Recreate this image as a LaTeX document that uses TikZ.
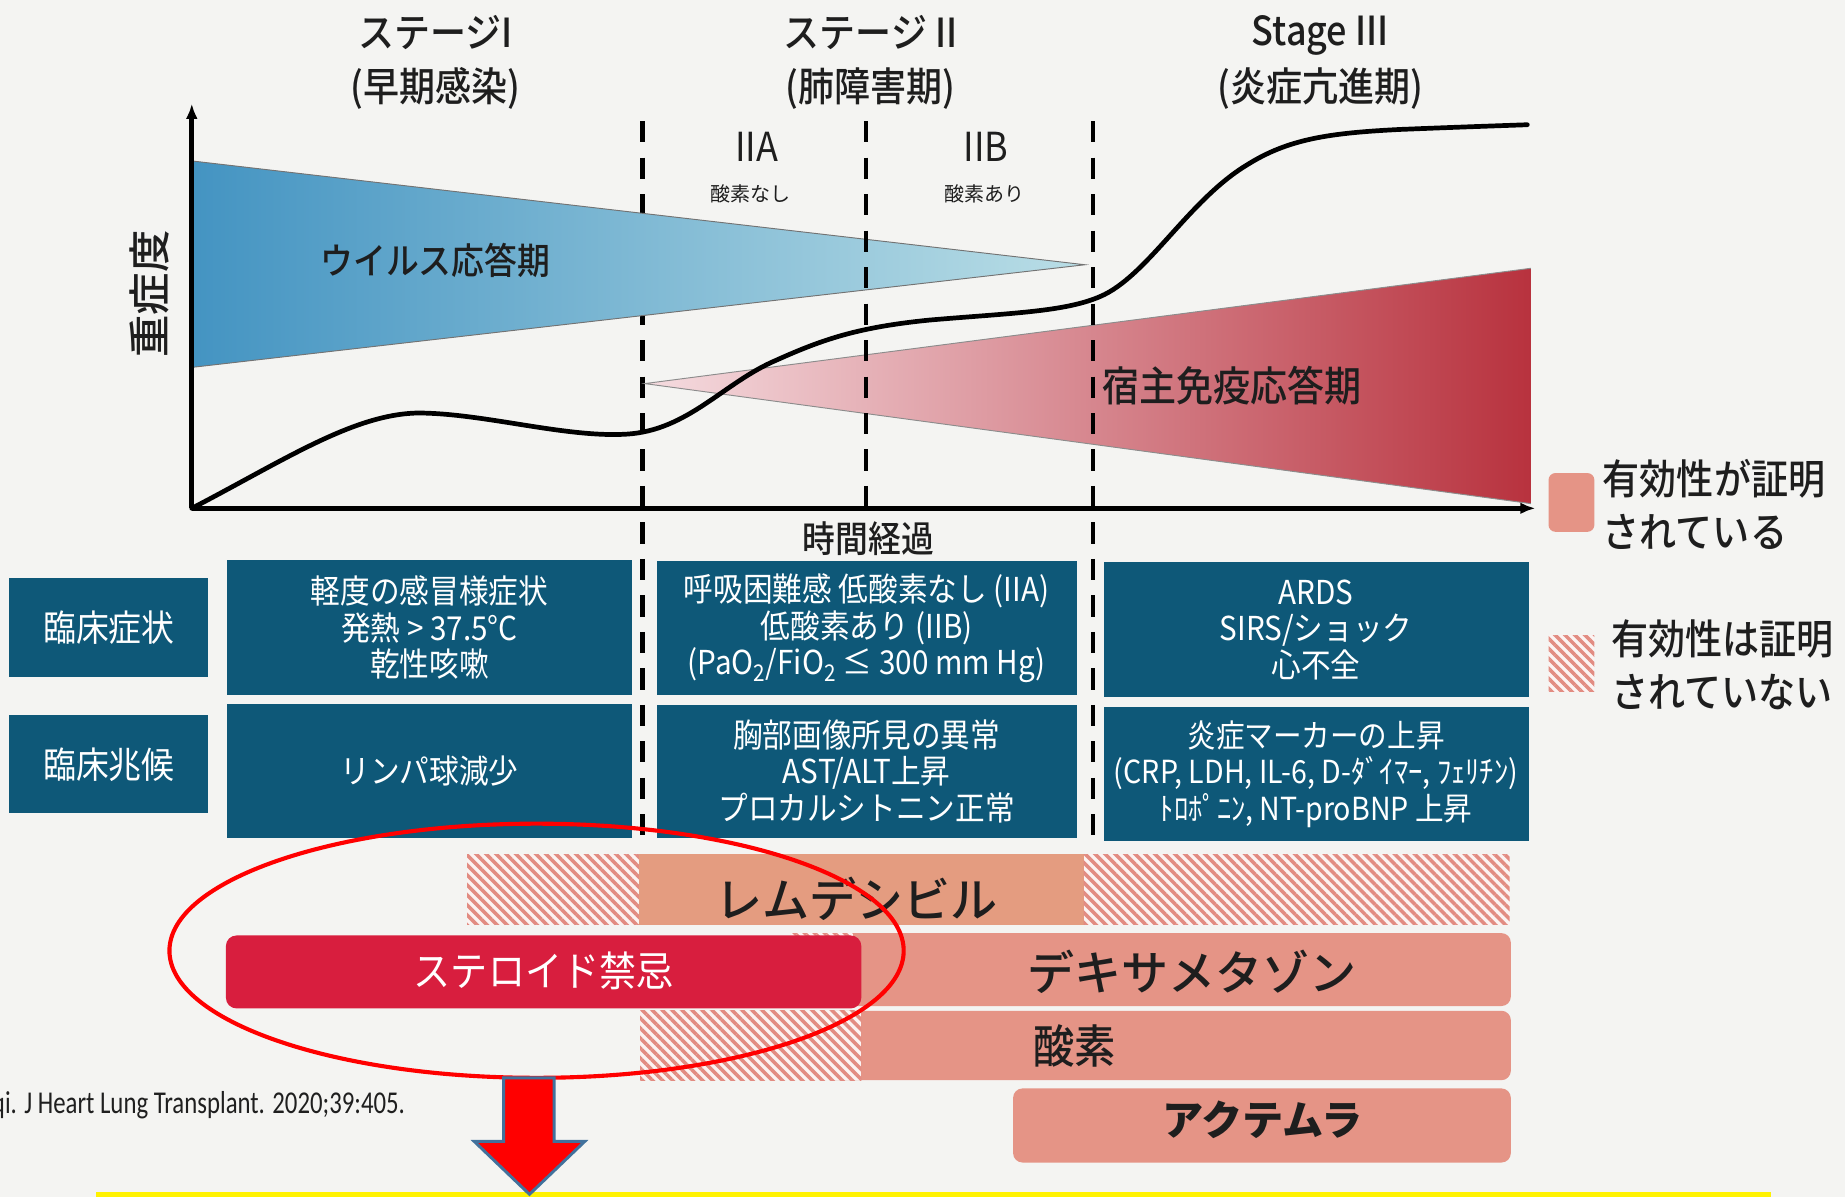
\documentclass[tikz,border=0pt]{standalone}
\usepackage{fontspec}
\setmainfont{Noto Sans CJK JP}
\newfontfamily\cond[FakeStretch=0.9]{Noto Sans CJK JP}
\IfFontExistsTF{Noto Sans CJK JP Medium}{%
  \newfontfamily\med[FakeStretch=0.9]{Noto Sans CJK JP Medium}%
  \newfontfamily\medw{Noto Sans CJK JP Medium}}{%
  \newfontfamily\med[FakeStretch=0.9]{Noto Sans CJK JP}%
  \newfontfamily\medw{Noto Sans CJK JP}}
\newfontfamily\citefont[FakeStretch=0.78]{Carlito}
\usetikzlibrary{arrows.meta,patterns.meta,shapes.geometric}
\definecolor{bgc}{RGB}{244,244,242}
\definecolor{boxteal}{RGB}{14,88,120}
\definecolor{salmonA}{RGB}{228,156,128}
\definecolor{salmonB}{RGB}{229,148,134}
\definecolor{hatchc}{RGB}{226,140,130}
\definecolor{steroidc}{RGB}{216,30,62}
\definecolor{blueL}{RGB}{68,148,194}
\definecolor{blueM}{RGB}{112,180,208}
\definecolor{blueR}{RGB}{186,222,230}
\definecolor{redL}{RGB}{245,220,224}
\definecolor{redM}{RGB}{224,142,156}
\definecolor{redR}{RGB}{184,50,62}
\definecolor{arrowedge}{RGB}{65,113,156}
\definecolor{txt}{RGB}{30,30,30}
\begin{document}
\begin{tikzpicture}[x=1pt,y=-1pt,
  stagetxt/.style={font=\med\fontsize{34}{40}\selectfont, text=txt, inner sep=0pt},
  smalltxt/.style={font=\fontsize{17}{20}\selectfont, text=txt, inner sep=0pt},
  bigtxt/.style={font=\med\fontsize{32}{36}\selectfont, text=txt, inner sep=0pt},
  tbox/.style={fill=boxteal, text=white, inner sep=0pt, align=center, font=\cond\fontsize{28}{31}\selectfont},
  lbox/.style={fill=boxteal, text=white, inner sep=0pt, align=center, font=\cond\fontsize{31}{36}\selectfont},
  dashline/.style={line width=3.5pt, dash pattern=on 18pt off 13pt},
  hatch/.style={fill=white!90!hatchc, postaction={pattern={Lines[angle=-45,distance=6pt,line width=3pt]}, pattern color=hatchc}},
  bartxt/.style={font=\medw\fontsize{40}{44}\selectfont, text=txt, inner sep=0pt},
  legtxt/.style={font=\med\fontsize{35}{45}\selectfont, text=txt, inner sep=0pt, align=left}
]
\useasboundingbox (0,0) rectangle (1568,1017);
\fill[bgc] (0,0) rectangle (1568,1017);

% coordinates
\coordinate (O) at (163,432);
\coordinate (Ytop) at (163,88);
\coordinate (Xend) at (1305,432);
\coordinate (d1t) at (546,103); \coordinate (d1b) at (546,712);
\coordinate (d2t) at (736,103); \coordinate (d2b) at (736,430);
\coordinate (d3t) at (929,103); \coordinate (d3b) at (929,714);
\coordinate (vA) at (165,137); \coordinate (vB) at (922,225); \coordinate (vC) at (165,312);
\coordinate (hA) at (548,326); \coordinate (hB) at (1301,228); \coordinate (hC) at (1301,428);

% dashed line hidden by the blue triangle
\draw[dashline] (d1t) -- (d1b);

% triangles
\shade[left color=blueL, middle color=blueM, right color=blueR] (vA) -- (vB) -- (vC) -- cycle;
\draw[line width=0.8pt, black!55] (vA) -- (vB) -- (vC);
\shade[left color=redL, middle color=redM, right color=redR] (hA) -- (hB) -- (hC) -- cycle;
\draw[line width=0.8pt, black!45] (hB) -- (hA) -- (hC);

\draw[dashline] (d2t) -- (d2b);
\draw[dashline] (d3t) -- (d3b);

% severity curve
\draw[line width=4pt, line cap=round] (O) .. controls (240,392) and (300,352) .. (355,351)
  .. controls (410,351) and (480,372) .. (532,369)
  .. controls (585,366) and (615,325) .. (660,306)
  .. controls (700,288) and (730,278) .. (790,272)
  .. controls (860,266) and (905,265) .. (935,252)
  .. controls (975,235) and (1010,170) .. (1060,140)
  .. controls (1095,118) and (1130,113) .. (1190,110)
  .. controls (1240,108) and (1270,107) .. (1298,106);

% axes
\draw[line width=4pt, -{Latex[length=13pt,width=10pt]}] (O) -- (Ytop);
\draw[line width=4pt, -{Latex[length=13pt,width=10pt]}] (O) -- (Xend);

% stage titles
\node[stagetxt] (s1a) at (370,28) {ステージI};
\node[stagetxt] (s1b) at (370,75) {(早期感染)};
\node[stagetxt] (s2a) at (740,28) {ステージ II};
\node[stagetxt] (s2b) at (740,75) {(肺障害期)};
\node[stagetxt] (s3a) at (1122,30) {Stage III};
\node[stagetxt] (s3b) at (1122,75) {(炎症亢進期)};
\node[stagetxt, font=\cond\fontsize{34}{40}\selectfont] (iia) at (643,125) {IIA};
\node[stagetxt, font=\cond\fontsize{34}{40}\selectfont] (iib) at (838,125) {IIB};
\node[smalltxt] (iian) at (638,165) {酸素なし};
\node[smalltxt] (iibn) at (837,165) {酸素あり};

\node[font=\medw\fontsize{36}{40}\selectfont, text=txt, inner sep=0pt, rotate=90] (sev) at (127,250) {重症度};
\node[bigtxt, font=\med\fontsize{31}{36}\selectfont] (virus) at (370,221) {ウイルス応答期};
\node[bigtxt, font=\med\fontsize{35}{40}\selectfont] (host) at (1047,328) {宿主免疫応答期};
\node[bigtxt, font=\med\fontsize{31}{36}\selectfont] (time) at (738,458) {時間経過};

% legend
\fill[salmonB, rounded corners=6pt] (1316,402) rectangle (1355,452);
\path[hatch] (1316,540) rectangle (1355,588);
\node[legtxt, anchor=west] (leg1) at (1362,429) {有効性が証明\\されている};
\node[legtxt, anchor=west] (leg2) at (1369,565) {有効性は証明\\されていない};

% clinical boxes
\node[lbox, minimum width=169pt, minimum height=84pt] (lab1) at (92.5,533) {臨床症状};
\node[lbox, minimum width=169pt, minimum height=83pt] (lab2) at (92.5,649.5) {臨床兆候};

\node[tbox, minimum width=344pt, minimum height=115pt] (a1) at (365,533.5) {軽度の感冒様症状\\発熱 > 37.5°C\\乾性咳嗽};
\node[tbox, minimum width=357pt, minimum height=114pt] (b1) at (736.5,534) {呼吸困難感 低酸素なし (IIA)\\低酸素あり (IIB)\\(PaO\textsubscript{2}/FiO\textsubscript{2} ≤ 300 mm Hg)};
\node[tbox, minimum width=361pt, minimum height=114pt] (c1) at (1118.5,535) {ARDS\\SIRS/ショック\\心不全};

\node[tbox, minimum width=344pt, minimum height=114pt] (a2) at (365,655) {リンパ球減少};
\node[tbox, minimum width=357pt, minimum height=113pt] (b2) at (736.5,655.5) {胸部画像所見の異常\\AST/ALT上昇\\プロカルシトニン正常};
\node[tbox, minimum width=361pt, minimum height=114pt, font=\cond\fontsize{27}{31}\selectfont] (c2) at (1118.5,658) {炎症マーカーの上昇\\(CRP, LDH, IL-6, D-ﾀﾞｲﾏｰ, ﾌｪﾘﾁﾝ)\\ﾄﾛﾎﾟﾆﾝ, NT-proBNP 上昇};

% treatment bars
\fill[salmonA] (543,726) rectangle (921,786);
\path[hatch] (397,726) rectangle (543,786);
\path[hatch] (921,726) rectangle (1283,786);
\node[bartxt] (rem) at (728,764) {レムデシビル};

\fill[salmonB, rounded corners=8pt] (715,793) rectangle (1284,855);
\path[hatch] (672,793) rectangle (725,856);
\node[bartxt] (dex) at (1013,826) {デキサメタゾン};

\fill[salmonB, rounded corners=8pt] (700,859) rectangle (1284,918);
\path[hatch] (544,859) rectangle (732,918);
\node[bartxt, font=\med\fontsize{39}{44}\selectfont] (oxy) at (913,889) {酸素};

\fill[salmonB, rounded corners=8pt] (861,925) rectangle (1284,988);
\node[bartxt, font=\bfseries\fontsize{35}{40}\selectfont] (act) at (1073,952) {アクテムラ};

\fill[steroidc, rounded corners=9pt] (192,795) rectangle (732,857);
\node[bartxt, font=\cond\fontsize{35}{40}\selectfont, text=white] (ster) at (462,825) {ステロイド禁忌};

% citation (cut at the left edge, as in the source)
\node[anchor=base west, font=\citefont\fontsize{27}{30}\selectfont, text=black!88, inner sep=0pt] (cite) at (-7,946) {qi. J Heart Lung Transplant. 2020;39:405.};

% yellow band and arrow
\fill[yellow] (82,1013) rectangle (1505,1025);
\node[ellipse, draw=red, line width=3.5pt, minimum width=624pt, minimum height=216pt, inner sep=0pt] (circ) at (456,808) {};
\filldraw[fill=red, draw=arrowedge, line width=2.5pt, line join=miter]
  (428,916) -- (471,916) -- (471,970) -- (497,970) -- (450,1015) -- (403,970) -- (428,970) -- cycle;
\end{tikzpicture}
\end{document}
